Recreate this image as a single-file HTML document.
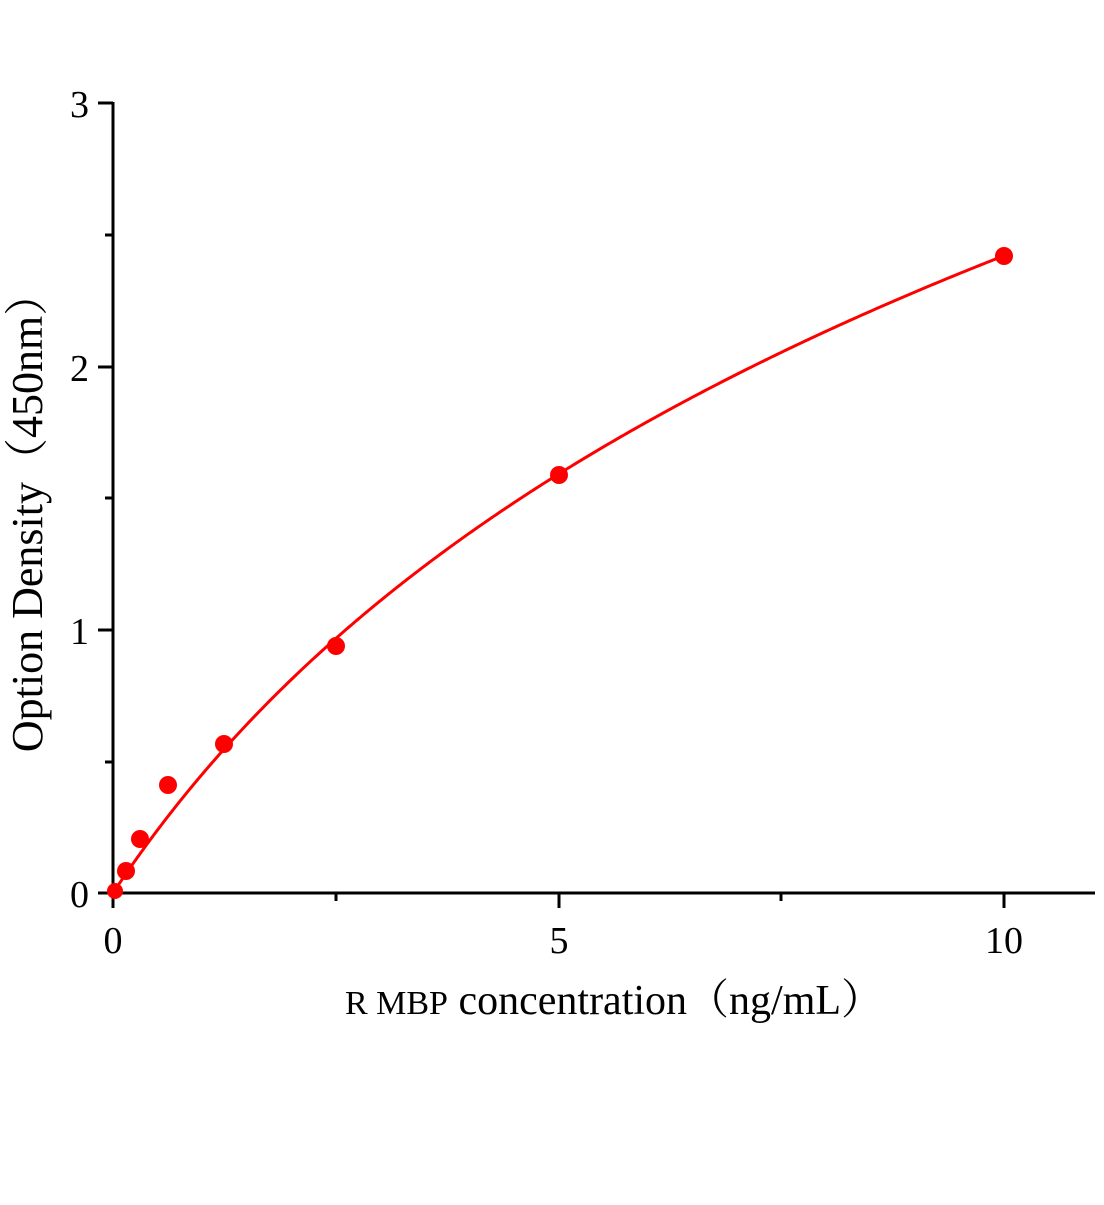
<!DOCTYPE html>
<html><head><meta charset="utf-8"><style>
body{margin:0;background:#fff}
svg text{font-family:"Liberation Serif","Noto Serif CJK SC",serif;fill:#000}
</style></head><body>
<svg width="1104" height="1200" viewBox="0 0 1104 1200" xmlns="http://www.w3.org/2000/svg">
<g stroke="#000" stroke-width="3" fill="none">
<line x1="113" y1="102" x2="113" y2="908"/>
<line x1="98" y1="893" x2="1095" y2="893"/>
<line x1="98" y1="103" x2="113" y2="103"/>
<line x1="98" y1="367" x2="113" y2="367"/>
<line x1="98" y1="630" x2="113" y2="630"/>
<line x1="105" y1="235" x2="113" y2="235"/>
<line x1="105" y1="498" x2="113" y2="498"/>
<line x1="105" y1="762" x2="113" y2="762"/>
<line x1="559" y1="893" x2="559" y2="908"/>
<line x1="1004" y1="893" x2="1004" y2="908"/>
<line x1="336" y1="893" x2="336" y2="901"/>
<line x1="781" y1="893" x2="781" y2="901"/>
</g>
<g font-size="38" text-anchor="end">
<text x="89" y="117">3</text><text x="89" y="381">2</text><text x="89" y="644">1</text><text x="89" y="907">0</text>
</g>
<g font-size="38" text-anchor="middle">
<text x="113" y="953">0</text><text x="559" y="953">5</text><text x="1004" y="953">10</text>
</g>
<text x="614" y="1014" text-anchor="middle" font-size="42"><tspan font-size="34">R MBP</tspan> concentration（ng/mL）</text>
<text transform="translate(42,512) rotate(-90)" text-anchor="middle" font-size="44">Option Density（450nm）</text>
<path id="c" fill="none" stroke="#f00" stroke-width="3"/>
<g fill="#f00">
<circle cx="115" cy="891" r="8"/>
<circle cx="126" cy="871" r="9"/>
<circle cx="140" cy="839" r="9"/>
<circle cx="168" cy="785" r="9"/>
<circle cx="224" cy="744" r="9"/>
<circle cx="336" cy="646" r="9"/>
<circle cx="559" cy="475" r="9"/>
<circle cx="1004" cy="256" r="9"/>
</g>
</svg>
<script>
var d="";
for(var i=0;i<=400;i++){var x=10*Math.pow(i/400,1.5);var y=1.793*Math.log(1+x/3.5);
d+=(i?" L":"M")+(113+x*89.1).toFixed(2)+","+(893-y*263.3).toFixed(2);}
document.getElementById("c").setAttribute("d",d);
</script>
</body></html>
